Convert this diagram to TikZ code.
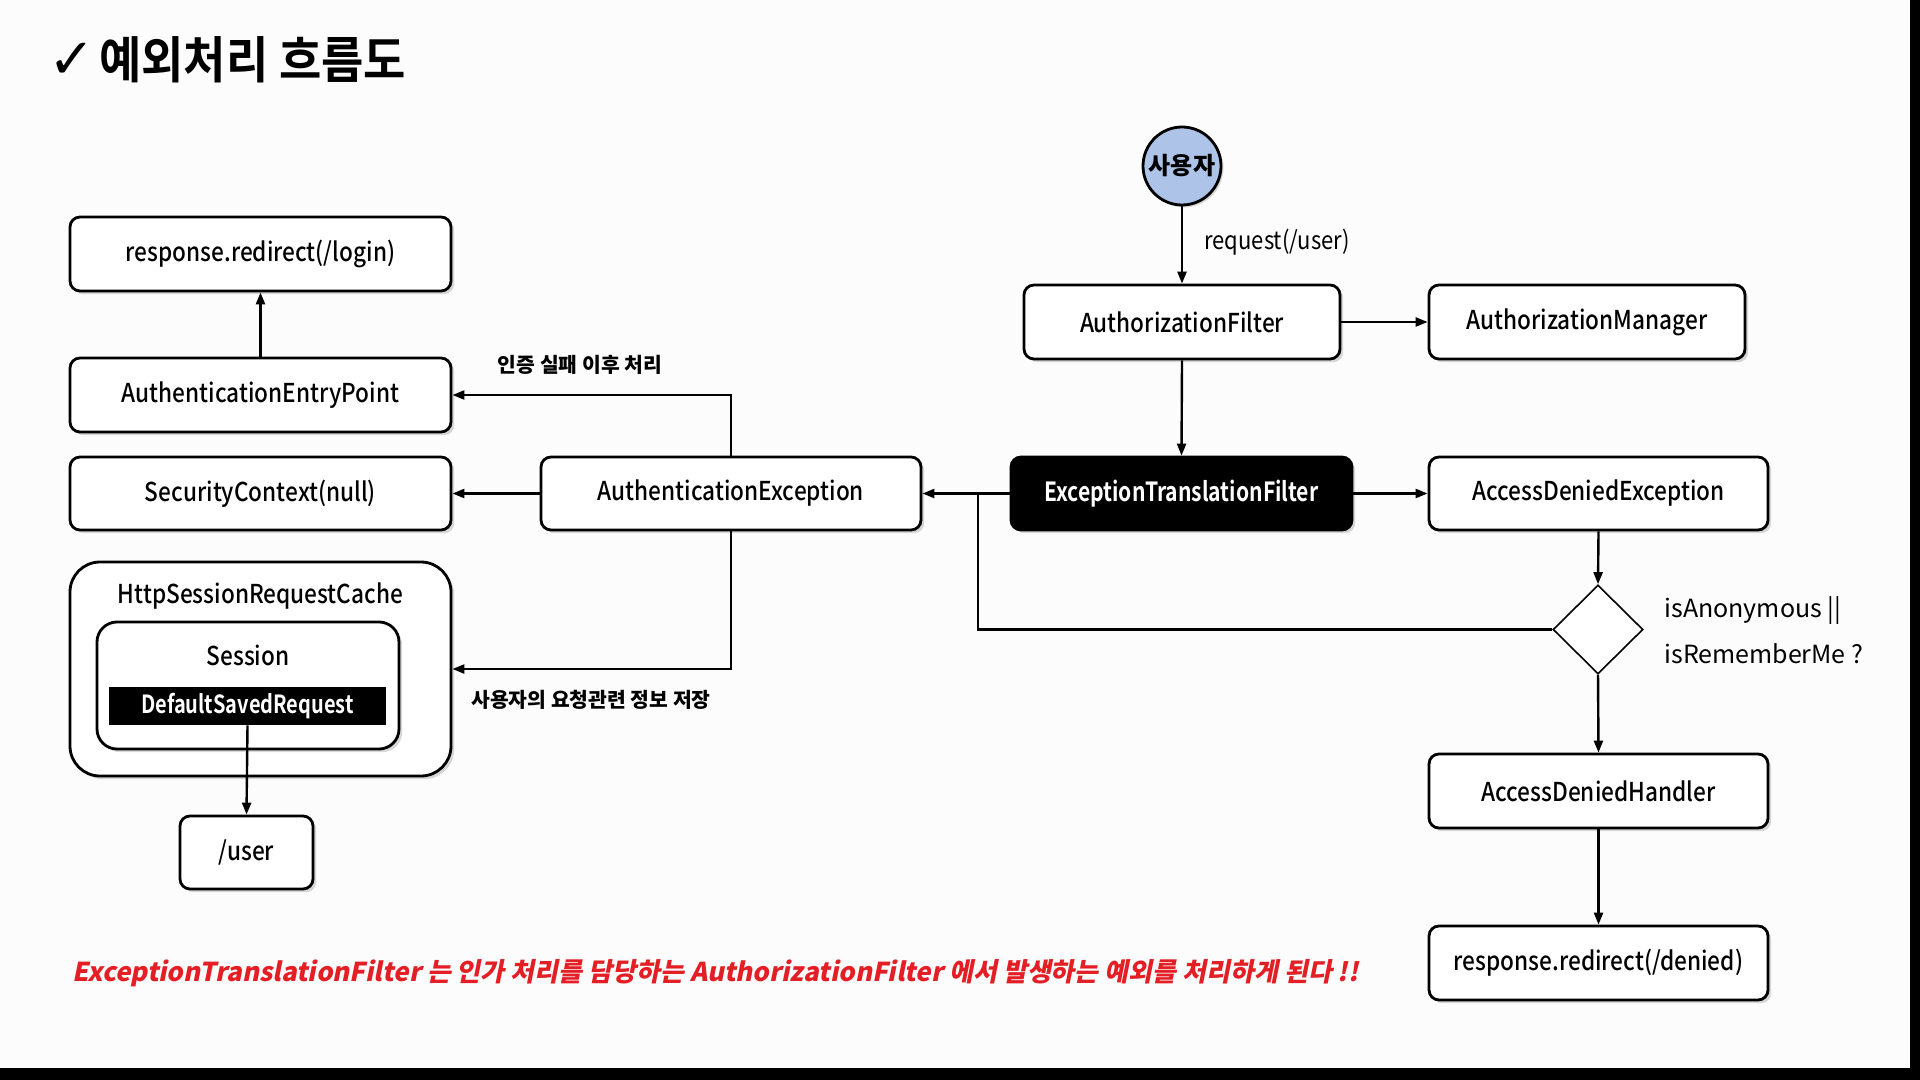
\documentclass[tikz,border=0pt]{standalone}
\usepackage{fontspec}
\setmainfont{Noto Sans CJK KR}
\newfontfamily\medf{Noto Sans CJK KR Medium}[FakeStretch=0.87]
\newfontfamily\boldnarrow{Noto Sans CJK KR Bold}[FakeStretch=0.8]
\newfontfamily\titlef{Noto Sans CJK KR Bold}[FakeStretch=0.92]
\newfontfamily\narrowf{Noto Sans CJK KR}[FakeStretch=0.88]
\newfontfamily\redf{Noto Sans CJK KR}[FakeSlant=0.2]
\newfontfamily\dejavu{DejaVu Sans}
\usetikzlibrary{arrows.meta,shapes.geometric,shadows}
\definecolor{bg}{HTML}{FCFCFC}
\definecolor{userblue}{HTML}{AEC3E8}
\definecolor{redtxt}{HTML}{E31E24}
\tikzset{
  wh/.style 2 args={minimum width=#1*0.5pt, minimum height=#2*0.5pt, inner sep=0pt},
  box/.style={draw, line width=1.4pt, rounded corners=5pt, fill=white,
    drop shadow={shadow xshift=1.6pt, shadow yshift=-1.6pt, opacity=0.3},
    font=\medf\fontsize{13}{15}\selectfont},
  darkbox/.style={box, fill=black, text=white, font=\boldnarrow\fontsize{13.2}{15}\selectfont},
  arr/.style={line width=1.2pt, -{Triangle[length=6pt,width=4.5pt]}},
  conn/.style={line width=1.2pt},
  lbl/.style={font=\bfseries\fontsize{10.2}{12}\selectfont, inner sep=0pt},
  note/.style={font=\fontsize{12.5}{15}\selectfont, inner sep=0pt, anchor=west},
}
\begin{document}
\begin{tikzpicture}[x=0.5pt, y=-0.5pt]
\fill[bg] (0,0) rectangle (1920,1080);
\fill[black] (0,1068) rectangle (1920,1080);
\fill[black] (1910,0) rectangle (1920,1080);
\useasboundingbox (0,0) rectangle (1920,1080);

% title
\node[anchor=west, inner sep=0pt] (title) at (48,60)
  {{\dejavu\bfseries\fontsize{28}{30}\selectfont ✓}\hspace{2pt}{\titlef\fontsize{25}{28}\selectfont 예외처리 흐름도}};

% left column
\node[box, wh={381}{74}] (login) at (260.5,254) {response.redirect(/login)};
\node[box, wh={381}{74}] (entry) at (260.5,395) {AuthenticationEntryPoint};
\node[box, wh={381}{73}] (secctx) at (260.5,493.5) {SecurityContext(null)};
\node[box, wh={381}{214}, rounded corners=15pt] (cache) at (260.5,669) {};
\node[font=\medf\fontsize{13}{15}\selectfont] (cachelbl) at (260.5,596) {HttpSessionRequestCache};
\node[box, wh={302}{127}, rounded corners=10pt] (session) at (248,685.5) {};
\node[font=\medf\fontsize{13}{15}\selectfont] (sessionlbl) at (248,655) {Session};
\node[fill=black, text=white, wh={277}{38}, font=\boldnarrow\fontsize{12.5}{15}\selectfont] (dsr) at (247.5,706) {DefaultSavedRequest};
\node[box, wh={133}{73}] (user) at (246.5,852.5) {/user};

% middle
\node[box, wh={380}{73}] (authex) at (731,493.5) {AuthenticationException};

% right
\node[circle, draw, line width=1.4pt, fill=userblue, minimum size=39pt, inner sep=0pt,
  drop shadow={shadow xshift=1.2pt, shadow yshift=-1.2pt, opacity=0.3},
  font=\bfseries\fontsize{12}{14}\selectfont] (usr) at (1182,166) {사용자};
\node[box, wh={316}{74}] (authF) at (1182,322) {AuthorizationFilter};
\node[box, wh={316}{74}] (authM) at (1587,322) {AuthorizationManager};
\node[darkbox, wh={341}{73}] (etf) at (1181.5,493.5) {ExceptionTranslationFilter};
\node[box, wh={339}{73}] (ade) at (1598.5,493.5) {AccessDeniedException};
\node[diamond, draw, line width=0.8pt, fill=white, minimum width=45pt, minimum height=44.5pt, inner sep=0pt] (dia) at (1598,629.5) {};
\node[box, wh={339}{74}] (adh) at (1598.5,791) {AccessDeniedHandler};
\node[box, wh={339}{74}] (deny) at (1598.5,963) {response.redirect(/denied)};

\coordinate (jn) at (978,493.5);

% connectors
\draw[arr] (entry.north) -- (login.south);
\draw[arr] (authex.north) |- (entry.east);
\draw[arr] (authex.west) -- (secctx.east);
\draw[arr] (authex.south) |- (cache.east);
\draw[arr] (dsr.south) -- (user.north);
\draw[arr] (usr.south) -- (authF.north);
\draw[arr] (authF.east) -- (authM.west);
\draw[arr] (authF.south) -- (etf.north);
\draw[arr] (etf.east) -- (ade.west);
\draw[arr] (etf.west) -- (authex.east);
\draw[conn] (dia.west) -| (jn);
\draw[arr] (ade.south) -- (dia.north);
\draw[arr] (dia.south) -- (adh.north);
\draw[arr] (adh.south) -- (deny.north);

% labels
\node[note, font=\narrowf\fontsize{12.5}{15}\selectfont] (reqlbl) at (1204,242) {request(/user)};
\node[lbl] (faillbl) at (580,365) {인증 실패 이후 처리};
\node[lbl] (savelbl) at (591,700) {사용자의 요청관련 정보 저장};
\node[note] (cond1) at (1664,611) {isAnonymous ||};
\node[note] (cond2) at (1664,654) {isRememberMe ?};

% footer note
\node[anchor=west, inner sep=0pt, text=redtxt, font=\redf\bfseries\fontsize{13}{16}\selectfont] (footer) at (72,973)
  {ExceptionTranslationFilter 는 인가 처리를 담당하는 AuthorizationFilter 에서 발생하는 예외를 처리하게 된다 !!};
\end{tikzpicture}
\end{document}
